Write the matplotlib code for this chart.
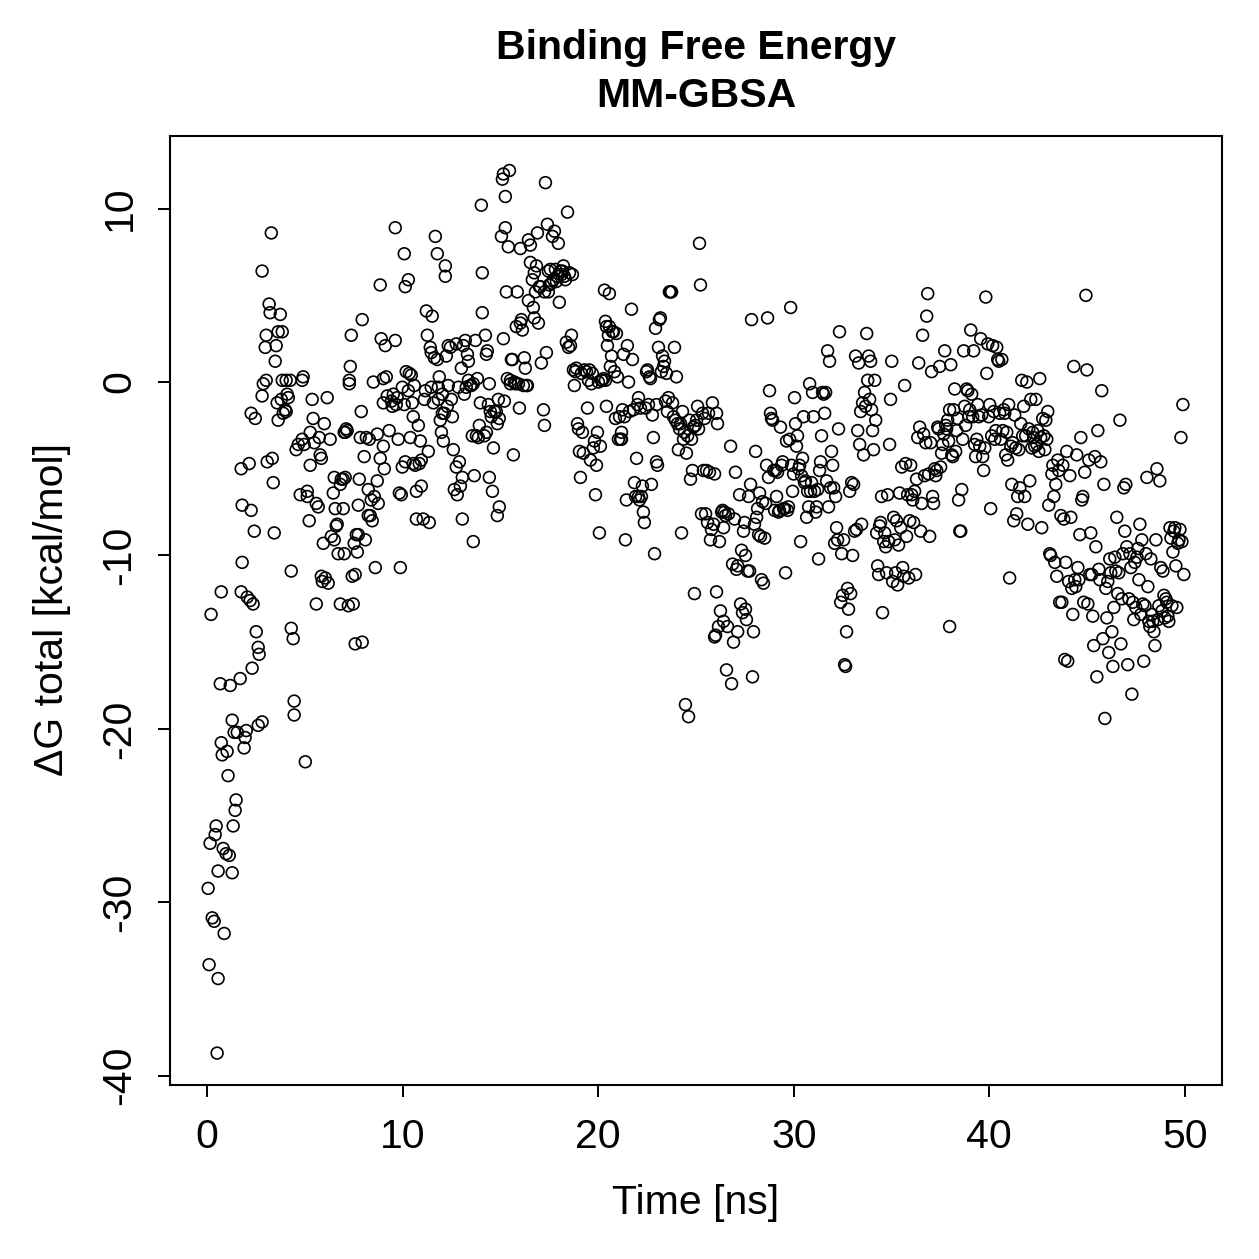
import matplotlib
matplotlib.use("Agg")
import matplotlib.pyplot as plt

# --- MM-GBSA binding free energy per frame ---
time_ns = [
    0.20, 0.05, 0.15, 0.26, 0.36, 0.10, 0.46, 0.41, 0.56, 0.51,
    0.56, 0.67, 0.72, 0.72, 0.77, 0.87, 0.82, 0.97, 1.13, 1.07,
    1.02, 1.18, 1.28, 1.28, 1.33, 1.43, 1.48, 1.38, 1.54, 1.69,
    1.74, 1.74, 1.79, 1.79, 1.89, 1.94, 2.00, 2.05, 2.15, 2.20,
    2.25, 2.25, 2.30, 2.35, 2.41, 2.46, 2.51, 2.61, 2.61, 2.66,
    2.81, 2.81, 2.87, 2.81, 2.97, 3.02, 3.02, 3.07, 3.17, 3.22,
    3.28, 3.33, 3.38, 3.43, 3.48, 3.53, 3.58, 3.63, 3.63, 3.74,
    3.79, 3.84, 3.84, 3.89, 3.99, 4.04, 4.09, 4.04, 4.15, 4.25,
    4.30, 4.30, 4.40, 4.45, 4.45, 4.55, 4.66,
    4.76, 4.86, 4.86, 4.91, 4.96, 5.02, 5.12, 5.22, 5.12, 5.27,
    5.27, 5.37, 5.42, 5.48, 5.58, 5.58, 5.68, 5.73, 5.78, 5.84,
    5.84, 5.89, 5.94, 5.99, 6.04, 6.14, 6.19, 6.29, 6.35, 6.45,
    6.50, 6.55, 6.50, 6.60, 6.65, 6.70, 6.81, 6.81, 6.86, 6.96,
    6.96, 7.06, 7.01, 7.01, 7.06, 7.11, 7.16, 7.22, 7.27, 7.27,
    7.32, 7.37,
    7.42, 7.47, 7.52, 7.57, 7.57, 7.63, 7.68, 7.73, 7.73, 7.78,
    7.83, 7.88, 7.93, 7.93, 8.03, 8.09, 8.14, 8.24, 8.24, 8.29,
    8.34, 8.39, 8.44, 8.50, 8.55, 8.60, 8.70, 8.70, 8.75, 8.85,
    8.85, 8.90, 9.01, 9.01, 9.01, 9.06, 9.11, 9.16, 9.21, 9.31,
    9.42, 9.47, 9.52, 9.62, 9.62, 9.67, 9.72, 9.77, 9.83, 9.88,
    9.93, 9.98, 9.98, 10.08, 10.08, 10.13, 10.13, 10.18, 10.29, 10.29,
    10.34, 10.39, 10.44, 10.49, 10.54, 10.54, 10.59, 10.64, 10.70, 10.70,
    10.80, 10.85, 10.90, 10.95, 10.95, 11.05, 11.11, 11.16, 11.21, 11.26,
    11.31, 11.36, 11.41, 11.46, 11.46, 11.51, 11.57, 11.62, 11.67, 11.77,
    11.77, 11.82, 11.82, 11.87, 11.92, 11.98, 12.03, 12.03, 12.08, 12.13,
    12.18, 12.18, 12.23, 12.28, 12.33, 12.33, 12.44, 12.49, 12.54, 12.59,
    12.64, 12.74, 12.74, 12.79, 12.85, 12.90, 12.95, 13.00, 13.05, 13.05,
    13.10, 13.15, 13.20, 13.25, 13.31, 13.36, 13.36, 13.46, 13.51, 13.61,
    13.56, 13.61,
    13.66, 13.72, 13.77, 13.82, 13.87, 13.92, 13.97, 14.02, 14.07, 14.07,
    14.18, 14.23, 14.28, 14.28, 14.33, 14.38, 14.43, 14.43, 14.48, 14.53,
    14.59, 14.64, 14.69, 14.79, 14.84, 14.84, 14.89, 14.94, 14.94, 15.05,
    15.10, 15.15, 15.15, 15.20, 15.25, 15.25, 15.30, 15.35, 15.40, 15.46,
    15.51, 15.51, 15.56, 15.61, 15.66, 15.71, 15.76, 15.81, 15.86, 15.92,
    15.97, 16.02, 16.02, 16.07, 16.12, 16.17, 16.22, 16.27, 16.33, 16.38,
    16.43, 16.43, 16.53, 16.53, 16.63, 16.68, 16.73, 16.73, 16.79, 16.84,
    16.89, 16.94, 16.99, 17.04, 17.09, 17.20, 17.25, 17.25, 17.30, 17.35,
    17.40, 17.45, 17.45, 17.50, 17.55, 17.61, 17.66, 17.71, 17.76, 17.81,
    17.86, 17.91, 17.96, 18.01, 18.07, 18.12, 18.17, 18.22, 18.27, 18.32,
    18.37, 18.43, 18.48, 18.53, 18.58, 18.63, 18.68, 18.73, 18.78, 18.83,
    18.88, 18.94, 18.99, 19.04, 19.09, 19.14, 19.19, 19.24, 19.29, 19.40,
    19.45, 19.50, 19.55, 19.60, 19.65, 19.70, 19.75, 19.81, 19.86, 19.91,
    19.96, 20.01, 20.06, 20.11, 20.16, 20.21, 20.27, 20.32, 20.37, 20.37,
    20.42, 20.42, 20.47, 20.52, 20.57, 20.57, 20.62, 20.68, 20.73, 20.78,
    20.83, 20.88, 20.93, 20.98, 21.03, 21.09, 21.14, 21.19, 21.19, 21.24,
    21.29, 21.34, 21.39, 21.44, 21.49, 21.55, 21.60, 21.70, 21.75, 21.80,
    21.85, 21.91, 21.96, 22.01, 22.06, 22.06, 22.11, 22.16, 22.21, 22.26,
    22.31, 22.36, 22.42, 22.47, 22.52, 22.57, 22.62, 22.67, 22.72, 22.77,
    22.82, 22.88, 22.93, 22.98, 22.98, 23.03, 23.08, 23.13, 23.18, 23.23,
    23.29, 23.34, 23.39, 23.44, 23.49, 23.54, 23.59, 23.64, 23.70, 23.75,
    23.80, 23.85, 23.90, 23.95, 24.00, 24.05, 24.10, 24.16, 24.21, 24.26,
    24.31, 24.36, 24.41, 24.46, 24.51, 24.57, 24.62, 24.67, 24.72, 24.77,
    24.82, 24.87, 24.92, 24.97, 25.03, 25.08, 25.13, 25.18, 25.23, 25.28,
    25.33, 25.38, 25.44, 25.49, 25.54, 25.59, 25.64, 25.69, 25.74, 25.79,
    25.84, 25.90, 25.95, 25.95, 26.00, 26.05, 26.05, 26.10, 26.15, 26.20,
    26.25, 26.31, 26.36, 26.41, 26.41, 26.46, 26.51, 26.56, 26.61, 26.66,
    26.77, 26.82, 26.87, 26.92, 26.97, 27.02, 27.07, 27.13, 27.13, 27.23,
    27.28, 27.33, 27.38, 27.43, 27.48, 27.53, 27.53, 27.58, 27.64, 27.69,
    27.74, 27.79, 27.84, 27.89, 27.94, 27.99, 28.05, 28.10, 28.15, 28.20,
    28.25, 28.30, 28.35, 28.40, 28.45, 28.51, 28.56, 28.61, 28.66, 28.71,
    28.76, 28.81, 28.86, 28.92, 28.97, 29.02, 29.07, 29.12, 29.17, 29.22,
    29.27, 29.32, 29.38, 29.43, 29.48, 29.53, 29.58, 29.63, 29.68, 29.73,
    29.79, 29.84, 29.89, 29.94, 29.99, 30.04, 30.09, 30.14, 30.19, 30.25,
    30.30, 30.35, 30.40, 30.45, 30.50, 30.55, 30.60, 30.66, 30.71, 30.76,
    30.81, 30.86, 30.91, 30.96, 31.01, 31.06, 31.12, 31.17, 31.22, 31.27,
    31.32, 31.37, 31.42, 31.47, 31.53, 31.58, 31.63, 31.68, 31.73, 31.78,
    31.83, 31.88, 31.93, 31.99, 32.04, 32.09, 32.14, 32.19, 32.24, 32.29,
    32.34, 32.40, 32.45, 32.50, 32.55, 32.60, 32.65, 32.70, 32.75, 32.80,
    32.86, 32.91, 32.96, 33.01, 33.06, 33.11, 33.16, 33.21, 33.27, 33.32,
    33.37, 33.42, 33.47, 33.52, 33.57, 33.62, 33.67, 33.73, 33.78, 33.83,
    33.88, 33.93, 33.98, 34.03, 34.08, 34.14, 34.19, 34.24, 34.29, 34.34,
    34.39, 34.44, 34.49, 34.54, 34.60, 34.65, 34.70, 34.75, 34.80, 34.85,
    34.90, 34.95, 35.01, 35.06, 35.11, 35.16, 35.21, 35.26, 35.31, 35.36,
    35.41, 35.47, 35.52, 35.57, 35.62, 35.67, 35.72, 35.77, 35.82, 35.88,
    35.93, 35.98, 36.03, 36.08, 36.13, 36.18, 36.23, 36.28, 36.34, 36.39,
    36.44, 36.49, 36.54, 36.59, 36.64, 36.69, 36.75, 36.80, 36.85, 36.90,
    36.95, 37.00, 37.05, 37.10, 37.15, 37.21, 37.26, 37.31, 37.36, 37.41,
    37.46, 37.51, 37.56, 37.62, 37.67, 37.72, 37.77, 37.82, 37.87, 37.92,
    37.97, 37.97, 38.03, 38.08, 38.13, 38.18, 38.23, 38.28, 38.33, 38.38,
    38.43, 38.49, 38.54, 38.59, 38.64, 38.69, 38.74, 38.79, 38.84, 38.90,
    38.95, 39.00, 39.05, 39.10, 39.15, 39.20, 39.25, 39.30, 39.36, 39.41,
    39.46, 39.51, 39.56, 39.61, 39.66, 39.71, 39.77, 39.82, 39.87, 39.92,
    39.97, 40.02, 40.07, 40.12, 40.17, 40.23, 40.28, 40.33, 40.38, 40.43,
    40.48, 40.53, 40.58, 40.64, 40.69, 40.74, 40.79, 40.84, 40.89, 40.94,
    40.99, 41.04, 41.10, 41.15, 41.20, 41.25, 41.30, 41.35, 41.40, 41.45,
    41.51, 41.56, 41.61, 41.66, 41.71, 41.76, 41.81, 41.86, 41.92, 41.97,
    42.02, 42.07, 42.12, 42.17, 42.22, 42.27, 42.32, 42.38, 42.43, 42.48,
    42.53, 42.58, 42.63, 42.68, 42.73, 42.79, 42.84, 42.89, 42.94, 42.99,
    43.04, 43.09, 43.14, 43.20, 43.25, 43.30, 43.35, 43.40, 43.45, 43.50,
    43.55, 43.60, 43.66, 43.71, 43.76, 43.81, 43.86, 43.91, 43.96, 44.01,
    44.06, 44.12, 44.17, 44.22, 44.27, 44.32, 44.37, 44.42, 44.47, 44.53,
    44.58, 44.63, 44.68, 44.73, 44.78, 44.83, 44.88, 44.94, 44.99, 45.04,
    45.09, 45.14, 45.19, 45.24, 45.29, 45.34, 45.40, 45.45, 45.50, 45.55,
    45.60, 45.65, 45.70, 45.75, 45.81, 45.86, 45.91, 45.96, 46.01, 46.06,
    46.11, 46.16, 46.21, 46.27, 46.32, 46.37, 46.42, 46.47, 46.52, 46.57,
    46.62, 46.68, 46.73, 46.78, 46.83, 46.88, 46.93, 46.98, 47.03, 47.08,
    47.14, 47.19, 47.24, 47.29, 47.34, 47.39, 47.44, 47.49, 47.55, 47.60,
    47.65, 47.70, 47.75, 47.80, 47.85, 47.90, 47.96, 48.01, 48.06, 48.11,
    48.16, 48.21, 48.26, 48.31, 48.36, 48.42, 48.47, 48.52, 48.57, 48.62,
    48.67, 48.72, 48.77, 48.83, 48.88, 48.93, 48.98, 49.03, 49.08, 49.13,
    49.18, 49.24, 49.29, 49.34, 49.39, 49.44, 49.49, 49.54, 49.59, 49.64,
    49.70, 49.75, 49.80, 49.85, 49.90, 49.95,
]

dg_total = [
    -13.4, -29.2, -26.6, -30.9, -31.1, -33.6, -25.6, -26.1, -34.4, -38.7,
    -28.2, -17.4, -12.1, -20.8, -21.5, -31.8, -26.9, -27.2, -27.3, -22.7,
    -21.3, -17.5, -19.5, -28.3, -25.6, -24.7, -24.1, -20.2, -20.2, -17.1,
    -12.1, -5.0, -7.1, -10.4, -21.1, -20.5, -20.1, -12.4, -4.7, -12.6,
    -1.8, -7.4, -16.5, -12.8, -8.6, -2.1, -14.4, -19.8, -15.3, -15.7,
    -19.6, 6.4, -0.1, -0.8, 2.0, 2.7, 0.1, -4.6, 4.5, 4.0,
    8.6, -4.4, -5.8, -8.7, 1.2, 2.1, -1.2, -2.2, 2.9, 3.9,
    -1.0, 2.9, 0.1, -1.8, -1.6, -1.7, -0.7, 0.1, -0.9, 0.1,
    -10.9, -14.2, -14.8, -18.4, -19.2, -3.9, -3.6,
    -6.5, -3.3, 0.1, 0.3, -3.6, -21.9, -6.6, -8.0, -6.3, -2.9,
    -4.8, -1.0, -2.1, -3.5, -7.0, -12.8, -7.2, -3.2, -4.2, -4.4,
    -11.2, -11.5, -9.3, -2.4, -11.3, -0.9, -11.6, -3.3, -8.9, -6.4,
    -9.1, -7.3, -5.5, -8.3, -8.2, -9.9, -5.9, -12.8, -5.6, -5.6,
    -7.3, -5.5, -9.9, -2.9, -2.9, -2.7, -2.8, -12.9, -0.1, 0.1,
    0.9, 2.7,
    -11.2, -12.8, -9.3, -11.1, -15.1, -8.8, -9.8, -8.8, -7.1, -5.6,
    -3.2, -1.7, 3.6, -15.0, -4.3, -9.1, -3.2, -6.2, -7.7, -3.3,
    -7.7, -6.8, -8.0, 0.0, -6.6, -10.7, -3.0, -5.7, -7.0, -4.4,
    5.6, 2.5, -3.7, -1.2, 0.2, -5.0, 2.1, 0.3, -0.8, -2.8,
    -1.1, -1.4, -0.7, 8.9, 2.4, -1.3, -0.9, -3.3, -6.4, -10.7,
    -6.5, -4.9, -0.3, -1.3, 7.4, -4.6, 5.5, 0.6, 5.9, -0.5,
    0.5, -3.2, 0.4, -1.2, -4.7, -2.0, -0.2, -4.8, -6.3, -7.9,
    -2.5, -4.7, -3.4, -6.0, -4.5, -7.9, -1.0, -0.5, 4.1, 2.7,
    -4.0, -8.1, 2.0, -0.3, 1.7, 3.8, -1.2, 1.4, 8.4, 7.4,
    1.3, -1.0, -0.3, 0.3, -2.2, -2.9, -0.7, -1.8, -3.4, -1.8,
    6.7, 6.1, 1.5, -1.4, -0.2, 2.1, 2.0, -1.0, -2.0, -3.9,
    -6.2, 2.2, -4.9, -6.5, -0.3, -4.6, -6.0, 0.8, -5.5, -7.9,
    2.1, -0.7, 2.4, -0.3, 1.6, 0.1, 1.2, -0.2, -0.2, -0.1,
    -3.1, -9.2,
    -5.4, 2.4, -3.1, 0.2, -3.2, -2.5, -1.2, 10.2, 6.3, 4.0,
    -3.1, 2.7, 1.6, -2.9, 1.8, -1.3, -0.1, -5.5, -1.7, -2.0,
    -6.3, -3.8, -1.7, -1.7, -7.7, -2.4, -1.0, -2.1, -7.2, 8.4,
    11.7, 12.0, 2.5, -1.1, 10.7, 8.9, 5.2, 0.2, 7.8, 12.2,
    -0.1, 0.1, 1.3, 1.3, -4.2, 0.0, -0.1, 3.2, 5.2, -0.1,
    -1.5, 3.4, 7.7, 3.6, 3.0, -0.2, 1.4, 0.8, -0.2, -0.2,
    4.7, 8.2, 7.9, 6.9, 5.9, 4.3, 3.7, 6.3, 5.2, 6.7,
    8.6, 3.4, 5.5, 5.5, 1.1, -1.6, 5.2, -2.5, 11.5, 1.7,
    9.1, 5.2, 6.4, 5.6, 6.5, 5.7, 8.4, 5.9, 8.7, 6.5,
    5.8, 6.1, 8.0, 4.6, 6.4, 6.2, 6.4, 6.7, 6.1, 5.9,
    2.3, 9.8, 2.0, 6.3, 2.1, 2.7, 6.2, 0.7, -0.2, 0.6,
    0.8, -2.4, -2.7, -4.0, -5.5, 0.5, -2.9, -4.1, 0.7, 0.6,
    -1.5, 0.1, 0.7, -4.5, -0.1, 0.5, -3.8, -3.4, -6.5, -4.8,
    -2.9, 0.0, -8.7, -3.7, 0.1, 0.1, 0.2, 5.3, 3.5, 0.1,
    3.2, -1.4, 2.1, 2.7, 5.1, 3.2, 0.9, 1.5, 2.9, 2.9,
    0.6, -2.1, 2.8, 0.3, -3.3, -2.0, -3.3, -2.9, -3.3, -1.6,
    1.6, -2.0, -9.1, -6.8, 2.1, 0.0, -1.7, 4.2, 1.3, -1.6,
    -5.8, -6.6, -4.4, -1.3, -6.6, -0.9, -6.8, -1.5, -6.6, -6.0,
    -7.5, -8.1, -1.5, 0.6, 0.7, -1.3, 0.3, 0.2, -5.9, -1.9,
    -3.2, -9.9, 3.1, -4.6, -1.3, -4.8, 2.0, 3.6, 3.7, 0.6,
    1.5, 0.9, 1.2, -1.1, 0.5, -1.7, -0.9, 5.2, 5.2, 5.2,
    -1.2, -2.0, 2.0, -2.2, 0.3, -2.4, -3.9, -2.7, -2.4, -8.7,
    -1.7, -3.3, -2.9, -18.6, -4.1, -3.1, -19.3, -2.2, -5.6, -3.3,
    -5.1, -2.6, -12.2, -2.5, -2.2, -1.4, -2.7, 8.0, 5.6, -7.6,
    -1.8, -5.1, -2.1, -7.6, -5.1, -8.1, -1.8, -5.2, -9.1, -8.5,
    -1.2, -8.2, -5.3, -14.7, -14.6, -12.1, -1.8, -2.4, -14.1, -9.2,
    -13.2, -7.5, -7.4, -13.8, -8.4, -7.5, -7.7, -16.6, -14.1, -7.6,
    -3.7, -17.4, -10.5, -15.0, -7.9, -5.2, -10.8, -10.6, -14.4, -6.5,
    -12.8, -9.7, -13.3, -8.6, -8.1, -13.1, -10.0, -13.7, -10.9, -6.6,
    -10.9, -5.9, 3.6, -17.0, -14.4, -8.2, -4.0, -7.8, -7.3, -8.8,
    -6.4, -8.9, -11.4, -6.9, -11.6, -9.0, -7.0, -4.8, 3.7, -5.5,
    -0.5, -1.8, -2.1, -2.2, -5.1, -7.4, -5.1, -6.6, -5.2, -7.5,
    -7.4, -2.6, -4.8, -4.6, -7.3, -7.3, -11.0, -3.4, -7.4, -7.2,
    -3.3, 4.3, -4.8, -6.3, -5.3, -0.9, -2.4, -3.7, -3.1, -5.0,
    -4.8, -9.2, -5.4, -4.4, -2.0, -5.8, -5.7, -7.8, -6.3, -7.2,
    -0.1, -6.3, -5.8, -0.6, -2.0, -6.3, -7.5, -7.2, -6.2, -10.2,
    -5.1, -4.6, -3.1, -0.6, -0.7, -1.8, -0.6, -5.7, 1.8, -7.2,
    1.2, -6.1, -4.0, -4.8, -6.1, -9.3, -6.6, -8.4, -9.1, -2.7,
    2.9, -12.7, -9.9, -12.3, -9.1, -16.3, -16.4, -14.4, -11.9, -13.1,
    -6.3, -12.2, -5.8, -10.0, -5.9, -8.6, 1.5, -8.5, -2.8, 1.1,
    -3.6, -1.7, -8.2, -1.2, -4.2, -0.6, -1.4, 2.8, 0.1, 1.5,
    -1.0, 1.2, -1.6, -2.8, -3.9, 0.1, -2.2, -8.7, -10.6, -11.1,
    -8.3, -8.1, -6.6, -13.3, -9.2, -8.7, -9.5, -11.0, -6.5, -9.2,
    -3.6, -1.0, 1.2, -11.5, -7.8, -9.1, -11.0, -8.0, -11.7, -9.4,
    -6.4, -8.4, -4.9, -10.7, -11.2, -0.2, -4.7, -8.9, -6.5, -11.3,
    -8.0, -4.8, -6.5, -6.8, -8.1, -6.3, -11.1, -5.6, -3.2, 1.1,
    -2.6, -8.6, -7.0, 2.7, -3.0, -5.4, -3.5, 3.8, 5.1, -5.3,
    -8.9, -3.5, 0.6, -6.6, -7.0, -5.0, -5.4, -5.1, -2.6, -2.7,
    0.9, -4.9, -4.1, -3.6, -3.0, 1.8, -2.5, -2.7, -2.2, -3.4,
    -14.1, -1.6, 1.0, -4.2, -4.3, -1.6, -0.4, -4.0, -2.8, -2.1,
    -6.8, -8.6, -8.6, -6.2, -3.3, 1.8, -1.4, -2.5, -0.4, -0.5,
    -2.0, -1.6, 3.0, -0.7, -2.0, 1.8, -3.6, -4.3, -3.3, -1.3,
    -2.0, -3.7, 2.5, -1.9, -4.3, -5.1, -3.8, 4.9, 0.5, 2.2,
    -2.0, -1.3, -7.3, -3.1, 2.1, -1.7, -3.3, -2.8, 2.0, 1.3,
    1.2, -1.8, -3.3, 1.3, -2.8, -1.6, -1.8, -4.2, -2.9, -4.5,
    -1.3, -11.3, -3.7, -5.9, -3.5, -8.0, -1.9, -3.8, -7.6, -6.6,
    -3.9, -6.1, -2.4, 0.1, -3.1, -1.4, -6.6, -3.1, 0.0, -8.2,
    -2.7, -5.7, -1.0, -3.8, -2.9, -3.2, -3.7, -1.0, -3.6, -2.8,
    -4.0, 0.2, -3.2, -8.4, -2.1, -3.1, -3.9, -2.2, -3.3, -1.7,
    -7.1, -9.9, -10.0, -5.3, -4.8, -6.6, -10.4, -5.9, -11.2, -4.5,
    -5.1, -12.7, -7.7, -12.7, -4.8, -7.9, -16.0, -10.4, -4.0, -16.1,
    -11.5, -5.4, -7.8, -11.9, -13.4, 0.9, -11.4, -11.8, -4.2, -10.7,
    -11.4, -8.8, -3.2, -6.8, -6.6, -12.7, -5.2, 5.0, 0.7, -12.8,
    -4.5, -11.1, -8.7, -11.1, -13.5, -15.2, -4.3, -9.5, -17.0, -2.8,
    -10.8, -11.4, -4.6, -0.5, -14.8, -5.9, -19.4, -11.9, -13.6, -11.5,
    -15.6, -10.2, -11.0, -14.4, -16.4, -13.0, -10.1, -10.9, -7.8, -12.2,
    -11.0, -2.2, -15.1, -12.5, -9.9, -6.1, -8.6, -5.9, -9.5, -16.3,
    -12.5, -9.9, -10.7, -18.0, -12.7, -13.7, -10.4, -13.0, -10.1, -9.6,
    -11.4, -8.2, -13.4, -9.1, -12.8, -16.1, -12.9, -9.9, -5.5, -11.8,
    -13.8, -14.1, -10.2, -13.4, -13.8, -14.4, -15.2, -9.1, -5.0, -13.7,
    -12.9, -5.7, -10.7, -13.2, -10.9, -12.3, -13.6, -12.5, -12.7, -13.5,
    -13.8, -8.4, -9.0, -12.9, -9.8, -8.6, -8.4, -10.6, -13.0, -9.3,
    -9.1, -8.5, -3.2, -9.2, -1.3, -11.1,
]

x_ticks = [0, 10, 20, 30, 40, 50]
y_ticks = [-40, -30, -20, -10, 0, 10]

plt.rcParams['font.family'] = ['Liberation Sans', 'DejaVu Sans']
FS = 29.5  # base text size, pt

W = H = 1259
fig = plt.figure(figsize=(W / 100, H / 100), dpi=100)
ax = fig.add_axes([170 / W, 1 - 1085 / H, (1222 - 170) / W, (1085 - 136) / H])

# open circles, like R's pch = 1
ax.scatter(time_ns, dg_total, s=72, facecolors='none', edgecolors='black',
           linewidths=1.2, zorder=3)

ax.set_xlim(-1.9, 51.9)
ax.set_ylim(-40.54, 14.19)
ax.set_xticks(x_ticks)
ax.set_yticks(y_ticks)
ax.set_xticklabels([str(v) for v in x_ticks])
ax.set_yticklabels([str(v) for v in y_ticks])

for sp in ax.spines.values():
    sp.set_linewidth(1.5)
ax.tick_params(direction='out', length=8.6, width=1.4, labelsize=FS)
ax.tick_params(axis='x', pad=15.5)
ax.tick_params(axis='y', pad=14)
for lab in ax.get_yticklabels():
    lab.set_rotation(90)
    lab.set_va('center')

fig.text(696 / W, 1 - 48 / H, "Binding Free Energy", ha='center', va='center',
         fontsize=FS, fontweight='bold')
fig.text(696 / W, 1 - 96 / H, "MM-GBSA", ha='center', va='center',
         fontsize=FS, fontweight='bold')
fig.text(696 / W, 1 - 1203 / H, "Time [ns]", ha='center', va='center',
         fontsize=FS)
fig.text(52 / W, 1 - 610 / H, "ΔG total [kcal/mol]", ha='center', va='center',
         rotation=90, fontsize=FS)

fig.savefig("out.png", dpi=100)
